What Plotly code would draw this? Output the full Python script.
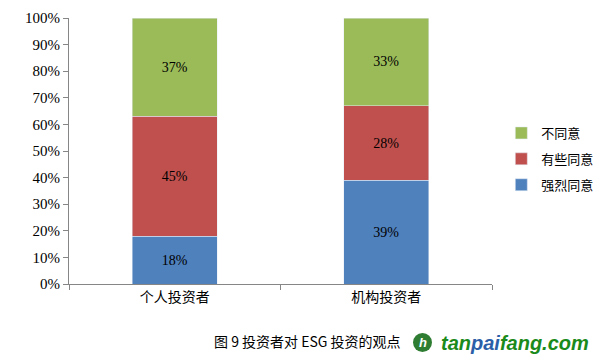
import plotly.graph_objects as go

categories = ["个人投资者", "机构投资者"]
strongly_agree = [18, 39]
somewhat_agree = [45, 28]
disagree = [37, 33]
series_names = ["强烈同意", "有些同意", "不同意"]
legend_ranks = [3, 2, 1]
colors = ["#4F81BD", "#C0504D", "#9BBB59"]
tick_vals = [0, 10, 20, 30, 40, 50, 60, 70, 80, 90, 100]
tick_text = [f"{v}%" for v in tick_vals]

fig = go.Figure()
for name, vals, col, rk in zip(series_names, [strongly_agree, somewhat_agree, disagree], colors, legend_ranks):
    fig.add_trace(go.Bar(
        x=categories, y=vals, name=name, marker_color=col, legendgroup=name, legendrank=rk,
        text=[f"{v}%" for v in vals], textposition="inside", insidetextanchor="middle",
        textfont=dict(family="Liberation Serif, Times New Roman, serif", size=14, color="#000"),
        width=0.4,
    ))

# page body has an 8px margin, so the figure is sized/positioned to compensate
fig.update_layout(
    barmode="stack",
    width=603, height=354,
    margin=dict(l=61, r=119, t=10, b=78, autoexpand=False),
    plot_bgcolor="white", paper_bgcolor="white",
    font=dict(family="Noto Sans CJK SC", size=13, color="#000"),
    legend=dict(x=1.022, xanchor="left", y=0.47, yanchor="middle",
                traceorder="grouped", font=dict(size=13), itemwidth=30,
                tracegroupgap=6),
    showlegend=True,
)
fig.update_yaxes(range=[0, 100], tickvals=tick_vals, ticktext=tick_text, automargin=False,
                 showgrid=False, showline=True, linecolor="#868686", linewidth=1,
                 ticks="outside", ticklen=5, tickcolor="#868686",
                 tickfont=dict(family="Liberation Serif, Times New Roman, serif", size=15))
fig.update_xaxes(showline=True, linecolor="#868686", linewidth=1, automargin=False,
                 ticks="outside", ticklen=5, tickcolor="#868686", tickson="boundaries",
                 tickfont=dict(family="Noto Sans CJK SC", size=14))

py = -(341 - 284) / 266
fig.add_annotation(xref="paper", yref="paper", x=(212-69)/423, y=py,
                   xanchor="left", yanchor="middle", showarrow=False,
                   text="图 9 投资者对 ESG 投资的观点",
                   font=dict(family="Noto Sans CJK SC", size=14, color="#000"))
fig.add_shape(type="circle", xref="paper", yref="paper",
              x0=(413-69)/423, x1=(432-69)/423, y0=-(352-284)/266, y1=-(333-284)/266,
              fillcolor="#2E7D32", line=dict(color="#2E7D32", width=0))
fig.add_annotation(xref="paper", yref="paper", x=(422.5-69)/423, y=-(342.5-284)/266,
                   xanchor="center", yanchor="middle", showarrow=False,
                   text="<b><i>h</i></b>", font=dict(family="Liberation Sans", size=13, color="white"))
fig.add_annotation(xref="paper", yref="paper", x=(439-69)/423, y=-(343-284)/266,
                   xanchor="left", yanchor="middle", showarrow=False,
                   text="<b><i>tan<span style='color:#2B5FA8'>pai</span>fang.com</i></b>",
                   font=dict(family="Liberation Sans, Arial", size=20, color="#1A8A1A"))

fig.write_html("out.html")
